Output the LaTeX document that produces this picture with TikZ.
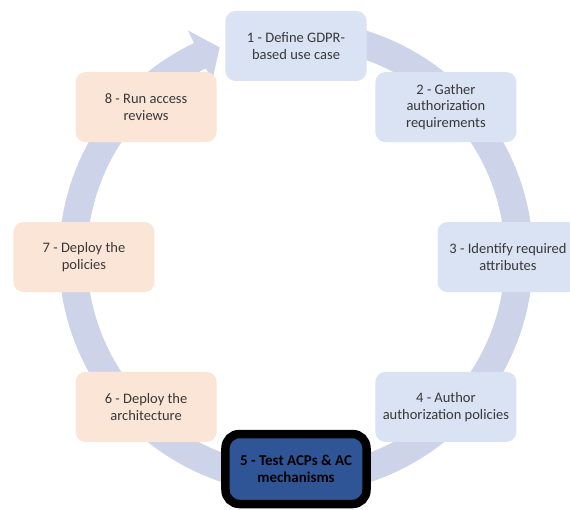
\documentclass[tikz,border=0pt]{standalone}
\usepackage{fontspec}
\setmainfont{Carlito}
\usepackage{xcolor}
\usepackage{tikz}
\usetikzlibrary{arrows,shapes,backgrounds,fit}

\definecolor{ringblue}{RGB}{205,212,234}
\definecolor{boxblue}{RGB}{218,227,243}
\definecolor{boxpeach}{RGB}{251,229,214}
\definecolor{boxdark}{RGB}{47,85,151}
\definecolor{textgray}{RGB}{56,56,56}

\begin{document}
\begin{tikzpicture}[x=1pt,y=1pt]
		\tikzstyle{phase}=[fill=boxblue, text=textgray, minimum width=141pt, minimum height=70pt, rounded corners=10pt, align=center, font=\fontsize{14.5}{16.7}\selectfont]
		\tikzstyle{phase_late}=[phase, fill=boxpeach]
		\tikzstyle{phase_active}=[phase, fill=boxdark, draw=black, line width=8.5pt, rounded corners=14pt, text=black, font=\fontsize{15}{16.7}\selectfont\bfseries]
		\tikzstyle{cycle_arrow}=[fill=ringblue]

		\useasboundingbox (-296,-252) rectangle (274,257);

		\fill [cycle_arrow] (97:209) arc (97:-244.5:209) -- (115.5:195) -- (110:223) -- (115.5:251) -- (115.5:237) arc (-244.5:97:237) -- cycle;

		\node [phase] (S1) at (90:211) {1 - Define GDPR-\\based use case};
		\node [phase] (S2) at (45:212) {2 - Gather\\authorization\\requirements};
		\node [phase] (S3) at (0:212) {3 - Identify required\\attributes};
		\node [phase] (S4) at (-45:212) {4 - Author\\authorization policies};
		\node [phase_active] (S5) at (-90:212) {5 - Test ACPs \& AC\\mechanisms};
		\node [phase_late] (S6) at (-135:212) {6 - Deploy the\\architecture};
		\node [phase_late] (S7) at (180:212) {7 - Deploy the\\policies};
		\node [phase_late] (S8) at (135:212) {8 - Run access\\reviews};
	\end{tikzpicture}
\end{document}
